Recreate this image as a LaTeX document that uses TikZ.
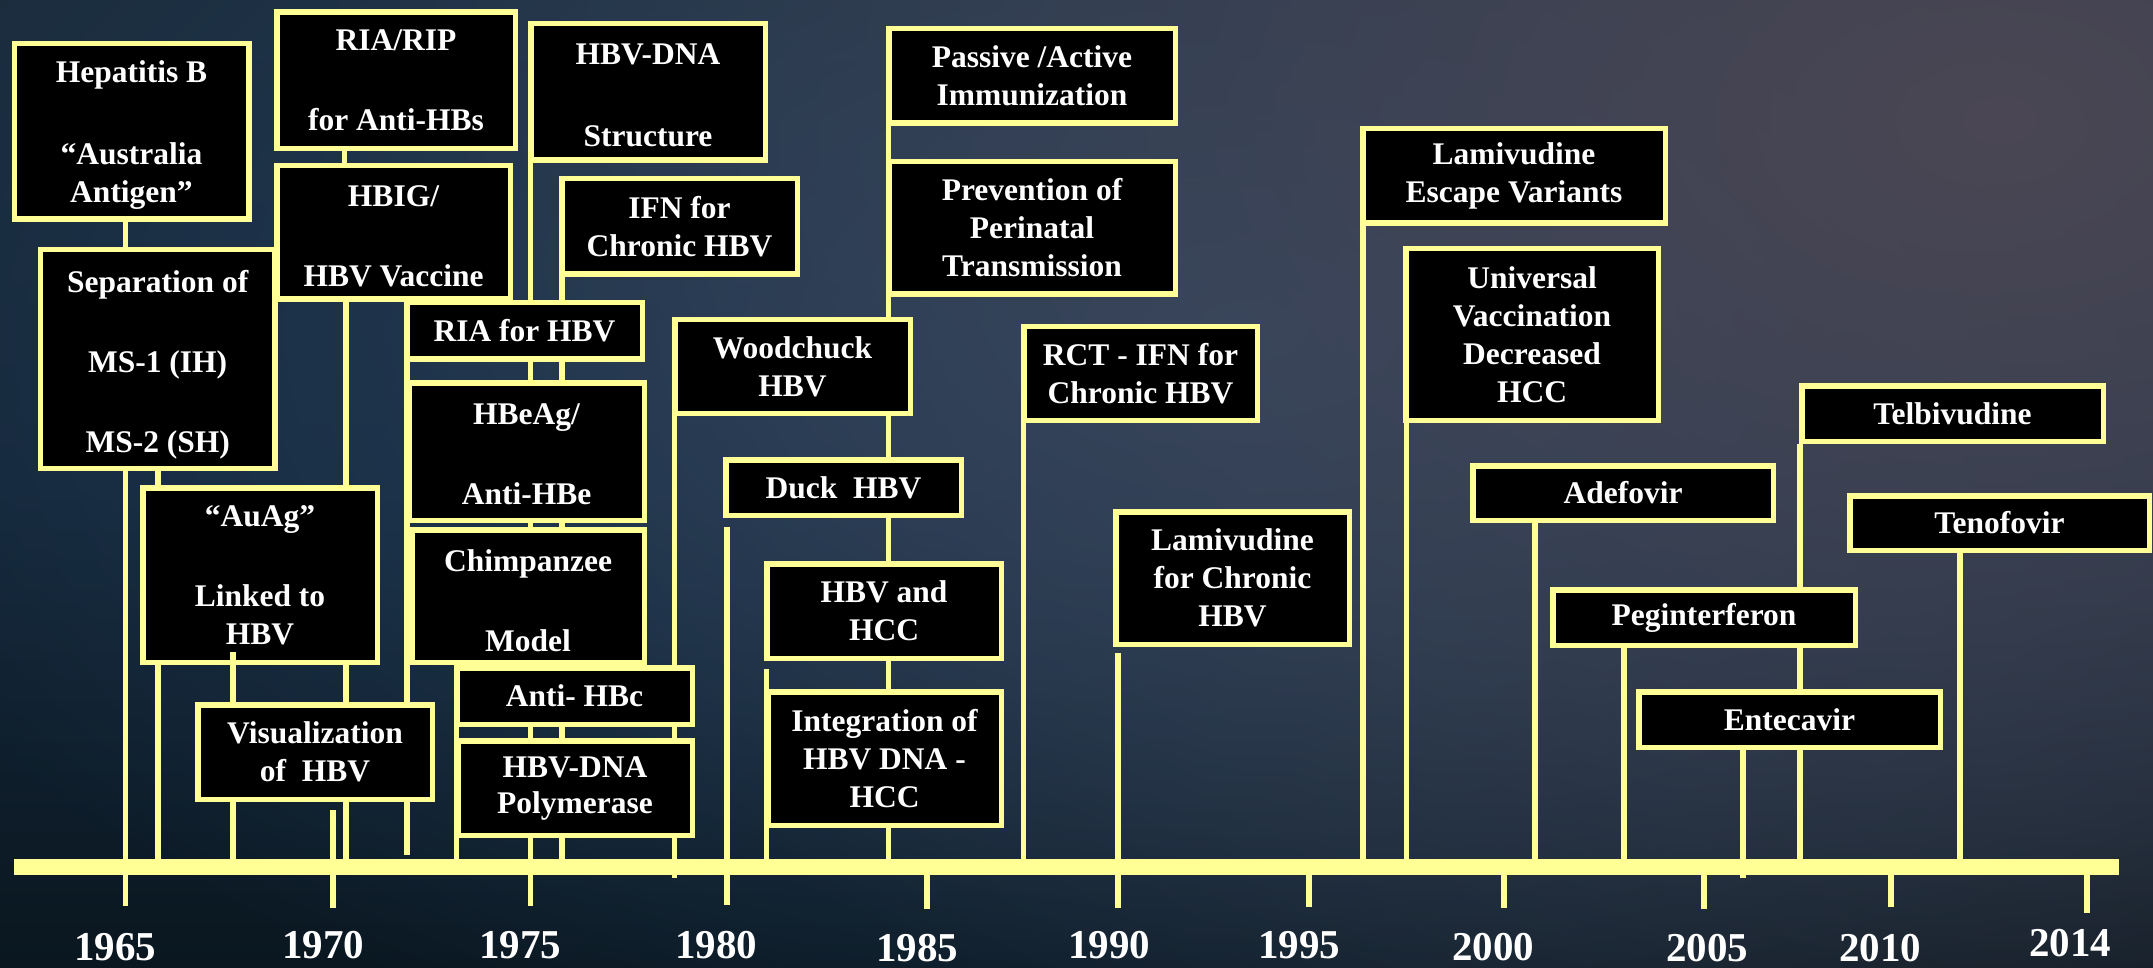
\documentclass[tikz,border=0pt]{standalone}
\usepackage{fontspec}
\setmainfont{Liberation Serif}
\usetikzlibrary{fadings}
\definecolor{hy}{HTML}{FFFF96}
\definecolor{bgTop}{HTML}{1A2B3B}
\definecolor{bgMid}{HTML}{14273A}
\definecolor{bgBot}{HTML}{0A1720}
\definecolor{glowGrey}{HTML}{4B4754}
\definecolor{glowBlue}{HTML}{284462}
\tikzfading[name=softglow, inner color=transparent!0, outer color=transparent!100]
\pgfdeclarelayer{bglayer}
\pgfdeclarelayer{linelayer}
\pgfsetlayers{bglayer,linelayer,main}
\newcommand{\up}[1]{\rule{0pt}{#1}}
\begin{document}
\begin{tikzpicture}[x=1pt,y=-1pt,
  evbox/.style={draw=hy, fill=black, line width=5.5pt, text=white, align=center, inner sep=0pt, font=\bfseries\fontsize{31.5}{38}\selectfont},
  conn/.style={draw=hy, line width=5.5pt},
  axisbar/.style={draw=hy, line width=16.5pt},
  yr/.style={text=white, font=\bfseries\fontsize{41}{41}\selectfont, anchor=base, inner sep=0pt}]
\useasboundingbox (0,0) rectangle (2153,968);

% ---------- boxes ----------
\node[evbox, minimum width=234.5, minimum height=175.5] (hep) at (131.5,131.2) {\up{30pt}Hepatitis B\\[44pt]“Australia\\Antigen”};
\node[evbox, minimum width=234.5, minimum height=218.5] (sep) at (157.7,359) {\up{33pt}Separation of\\[42pt]MS-1 (IH)\\[42pt]MS-2 (SH)};
\node[evbox, minimum width=238.5, minimum height=136.5] (riarip) at (396,80.5) {RIA/RIP\\[42pt]for Anti-HBs};
\node[evbox, minimum width=233.5, minimum height=133.5] (hbig) at (393.5,232.5) {\up{29pt}HBIG/\\[42pt]HBV Vaccine};
\node[evbox, minimum width=234.5, minimum height=136.5] (hbvdna) at (648,92) {\up{28pt}HBV-DNA\\[44pt]Structure};
\node[evbox, minimum width=235.5, minimum height=95.5] (ifn) at (679.5,226.5) {IFN for\\Chronic HBV};
\node[evbox, minimum width=235.5, minimum height=56.5] (riahbv) at (524.5,331) {RIA for HBV};
\node[evbox, minimum width=235.5, minimum height=137.5] (hbeag) at (526.5,451.5) {\up{27pt}HBeAg/\\[42pt]Anti-HBe};
\node[evbox, minimum width=232.5, minimum height=132.5] (chimp) at (528,596) {\up{32pt}Chimpanzee\\[42pt]Model};
\node[evbox, minimum width=235.5, minimum height=56.5] (antihbc) at (574.5,696) {Anti- HBc};
\node[evbox, minimum width=234.5, minimum height=94.5] (poly) at (575,788) {HBV-DNA\\[-2pt]Polymerase};
\node[evbox, minimum width=234.5, minimum height=174.5] (auag) at (260,575) {“AuAg”\\[42pt]Linked to\\HBV};
\node[evbox, minimum width=234.5, minimum height=94.5] (vis) at (315,752) {Visualization\\of\ \ HBV};
\node[evbox, minimum width=286.5, minimum height=94.5] (passive) at (1032,76) {Passive /Active\\Immunization};
\node[evbox, minimum width=286.5, minimum height=132.5] (prev) at (1032,228) {Prevention of\\Perinatal\\Transmission};
\node[evbox, minimum width=235.5, minimum height=93.5] (wood) at (792.5,366.5) {Woodchuck\\HBV};
\node[evbox, minimum width=235.5, minimum height=55.5] (duck) at (843.5,487.5) {Duck\ \ HBV};
\node[evbox, minimum width=234.5, minimum height=94.5] (hbvhcc) at (884,611) {HBV and\\HCC};
\node[evbox, minimum width=233.5, minimum height=133.5] (integ) at (884.5,758.5) {Integration of\\HBV DNA -\\HCC};
\node[evbox, minimum width=233.5, minimum height=93.5] (rct) at (1140.5,373.5) {RCT - IFN for\\Chronic HBV};
\node[evbox, minimum width=233.5, minimum height=132.5] (lamchr) at (1232.5,578) {Lamivudine\\for Chronic\\HBV};
\node[evbox, minimum width=302.5, minimum height=94.5] (lamesc) at (1514,176) {Lamivudine\\Escape Variants};
\node[evbox, minimum width=252.5, minimum height=171.5] (univ) at (1532,334.5) {Universal\\Vaccination\\Decreased\\HCC};
\node[evbox, minimum width=300.5, minimum height=54.5] (adef) at (1623,493) {Adefovir};
\node[evbox, minimum width=301.5, minimum height=55.5] (telb) at (1952.5,413.5) {Telbivudine};
\node[evbox, minimum width=299.5, minimum height=54.5] (tenof) at (1999.5,523) {Tenofovir};
\node[evbox, minimum width=302.5, minimum height=55.5] (pegint) at (1704,617.5) {Peginterferon};
\node[evbox, minimum width=301.5, minimum height=55.5] (entec) at (1789.5,719.5) {Entecavir};

% ---------- year labels ----------
\node[yr] (l1965) at (115,960) {1965};
\node[yr] (l1970) at (323,958) {1970};
\node[yr] (l1975) at (520,958) {1975};
\node[yr] (l1980) at (716,958) {1980};
\node[yr] (l1985) at (917,961) {1985};
\node[yr] (l1990) at (1109,958) {1990};
\node[yr] (l1995) at (1299,958) {1995};
\node[yr] (l2000) at (1493,960) {2000};
\node[yr] (l2005) at (1707,961) {2005};
\node[yr] (l2010) at (1880,961) {2010};
\node[yr] (l2014) at (2070,956) {2014};

% ---------- axis coordinates ----------
\coordinate (barL) at (14,867);
\coordinate (barR) at (2119,867);
\coordinate (bar) at (0,867);
\coordinate (tk) at (0,906);
\coordinate (tkshort) at (0,878);
\coordinate (t1970) at (333,810);
\coordinate (t1985) at (927,909);
\coordinate (t1995) at (1309,907);
\coordinate (t2000) at (1504,908);
\coordinate (t2005) at (1704,909);
\coordinate (t2010) at (1891,907);
\coordinate (t2014) at (2087,913);
\coordinate (duckgap) at (727,527);
\coordinate (hccgap) at (766.5,669);
\coordinate (lamgap) at (1118,653);
\coordinate (auagstub) at (233,652);

% ---------- background ----------
\begin{pgfonlayer}{bglayer}
\clip (0,0) rectangle (2153,968);
\shade[top color=bgTop, bottom color=bgBot, middle color=bgMid] (0,0) rectangle (2153,968);
\fill[glowBlue, path fading=softglow] (1250,330) ellipse [x radius=1500pt, y radius=800pt];
\fill[glowGrey, path fading=softglow] (2000,120) ellipse [x radius=1700pt, y radius=1100pt];
\end{pgfonlayer}

% ---------- connectors ----------
\begin{pgfonlayer}{linelayer}
\draw[conn] (125.5,0 |- hep.south) -- (125.5,0 |- sep.north);
\draw[conn] (125.5,0 |- sep.south) -- (125.5,0 |- tk);
\draw[conn] (158,0 |- sep.south) -- (158,0 |- auag.north);
\draw[conn] (158,0 |- auag.south) -- (158,0 |- bar);
\draw[conn] (233,0 |- auag.south) -- (233,0 |- bar);
\draw[conn] (344.5,0 |- riarip.south) -- (344.5,0 |- hbig.north);
\draw[conn] (346,0 |- hbig.south) -- (346,0 |- bar);
\draw[conn] (t1970) -- (333,0 |- 0,908);
\draw[conn] (407,0 |- riahbv.north) -- (407,0 |- 0,855);
\draw[conn] (456.5,0 |- antihbc.south) -- (456.5,0 |- bar);
\draw[conn] (530.5,0 |- hbvdna.south) -- (530.5,0 |- tk);
\draw[conn] (562,0 |- ifn.south) -- (562,0 |- bar);
\draw[conn] (674.5,0 |- wood.south) -- (674.5,0 |- tkshort);
\draw[conn] (duckgap) -- (duckgap |- 0,905);
\draw[conn] (888.5,0 |- passive.south) -- (888.5,0 |- bar);
\draw[conn] (hccgap) -- (hccgap |- bar);
\draw[conn] (1023.5,0 |- rct.south) -- (1023.5,0 |- bar);
\draw[conn] (lamgap) -- (lamgap |- 0,908);
\draw[conn] (1363,0 |- lamesc.south) -- (1363,0 |- bar);
\draw[conn] (1406.5,0 |- univ.south) -- (1406.5,0 |- bar);
\draw[conn] (1535,0 |- adef.south) -- (1535,0 |- bar);
\draw[conn] (1624,0 |- pegint.south) -- (1624,0 |- bar);
\draw[conn] (1743,0 |- entec.south) -- (1743,0 |- tkshort);
\draw[conn] (1800,0 |- telb.south) -- (1800,0 |- bar);
\draw[conn] (1960,0 |- tenof.south) -- (1960,0 |- bar);
% ticks
\draw[conn] (t1985 |- bar) -- (t1985);
\draw[conn] (t1995 |- bar) -- (t1995);
\draw[conn] (t2000 |- bar) -- (t2000);
\draw[conn] (t2005 |- bar) -- (t2005);
\draw[conn] (t2010 |- bar) -- (t2010);
\draw[conn] (t2014 |- bar) -- (t2014);
% timeline bar
\draw[axisbar] (barL) -- (barR);
\end{pgfonlayer}
% small stub of the 1968 line visible inside the AuAg box
\draw[conn] (auagstub) -- (auagstub |- auag.south);
\end{tikzpicture}
\end{document}
